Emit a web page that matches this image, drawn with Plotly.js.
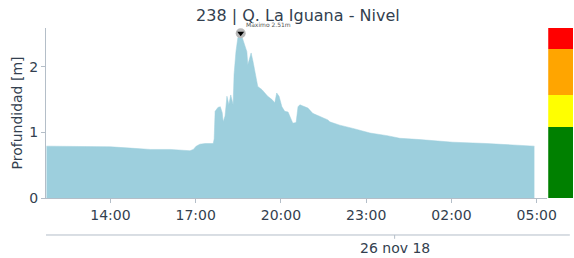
<!DOCTYPE html>
<html>
<head>
<meta charset="utf-8">
<script src="https://cdn.plot.ly/plotly-3.0.1.min.js"></script>
<style>html,body{margin:0;padding:0;background:#fff;}#chart{width:574px;height:258px;}</style>
</head>
<body>
<div id="chart"></div>
<script>
// Series: water depth over time
const times = [
 "2018-11-25 11:45","2018-11-25 12:57","2018-11-25 14:00","2018-11-25 14:42","2018-11-25 15:24",
 "2018-11-25 16:06","2018-11-25 16:27","2018-11-25 16:48","2018-11-25 16:55","2018-11-25 17:01",
 "2018-11-25 17:09","2018-11-25 17:20","2018-11-25 17:37","2018-11-25 17:39","2018-11-25 17:41",
 "2018-11-25 17:47","2018-11-25 17:52","2018-11-25 17:56","2018-11-25 17:58","2018-11-25 18:02",
 "2018-11-25 18:06","2018-11-25 18:10","2018-11-25 18:14","2018-11-25 18:19","2018-11-25 18:21",
 "2018-11-25 18:25","2018-11-25 18:29","2018-11-25 18:35","2018-11-25 18:38","2018-11-25 18:42",
 "2018-11-25 18:48","2018-11-25 18:50","2018-11-25 18:57","2018-11-25 19:01","2018-11-25 19:05",
 "2018-11-25 19:11","2018-11-25 19:20","2018-11-25 19:26","2018-11-25 19:32","2018-11-25 19:41",
 "2018-11-25 19:47","2018-11-25 19:51","2018-11-25 19:56","2018-11-25 20:02","2018-11-25 20:08",
 "2018-11-25 20:15","2018-11-25 20:21","2018-11-25 20:25","2018-11-25 20:32","2018-11-25 20:36",
 "2018-11-25 20:40","2018-11-25 20:51","2018-11-25 20:57","2018-11-25 21:07","2018-11-25 21:22",
 "2018-11-25 21:39","2018-11-25 21:43","2018-11-25 22:04","2018-11-25 22:32","2018-11-25 23:08",
 "2018-11-25 23:44","2018-11-26 00:11","2018-11-26 00:53","2018-11-26 02:03","2018-11-26 03:14",
 "2018-11-26 04:24","2018-11-26 04:55"
];
const depth = [
 0.79,0.785,0.78,0.76,0.74,
 0.74,0.73,0.72,0.74,0.79,
 0.82,0.83,0.83,0.90,1.32,
 1.38,1.39,1.30,1.16,1.25,
 1.55,1.42,1.57,1.42,1.88,
 2.23,2.44,2.51,2.45,2.36,
 2.23,2.03,2.21,2.08,1.93,
 1.70,1.65,1.60,1.55,1.50,
 1.45,1.60,1.55,1.39,1.32,
 1.31,1.19,1.14,1.15,1.39,
 1.42,1.39,1.37,1.29,1.24,
 1.19,1.16,1.11,1.06,0.99,
 0.95,0.91,0.89,0.85,0.83,
 0.80,0.79
];
// Maximum marker
const maxTime = ["2018-11-25 18:35"];
const maxValue = [2.51];
const maxLabel = "Máximo 2.51m";
// Alert levels (band heights, stacked)
const levelNames = ["Normal","Precaución","Alerta","Peligro"];
const levelHeights = [1.08, 0.49, 0.70, 0.32];
const levelColors = ["#008000","#ffff00","#ffa500","#ff0000"];
const dateLabel = "26 nov 18";
const dateTick = "2018-11-26 00:00";

const txt = '#333f4f';
const axc = '#b4bec8';
const font = 'DejaVu Sans, sans-serif';

const traces = [
  {x: times, y: depth, type: 'scatter', mode: 'lines', fill: 'tozeroy',
   fillcolor: '#9dcfdd', line: {color: '#9dcfdd', width: 0.5}, hoverinfo: 'skip', xaxis: 'x', yaxis: 'y'},
  {x: maxTime, y: maxValue, type: 'scatter', mode: 'markers',
   marker: {symbol: 'circle', size: 10, color: '#b9b9b9', line: {width: 0}}, xaxis: 'x', yaxis: 'y'},
  {x: maxTime, y: maxValue, type: 'scatter', mode: 'markers',
   marker: {symbol: 'triangle-down', size: 6, color: '#000'}, xaxis: 'x', yaxis: 'y'}
];
for (let i = 0; i < levelNames.length; i++) {
  traces.push({x: [0], y: [levelHeights[i]], type: 'bar', name: levelNames[i], width: 1,
    marker: {color: levelColors[i], line: {width: 0}}, xaxis: 'x2', yaxis: 'y', hoverinfo: 'skip'});
}

const layout = {
  width: 574, height: 258,
  margin: {l: 46, r: 1, t: 28, b: 60},
  paper_bgcolor: '#fff', plot_bgcolor: '#fff',
  showlegend: false, barmode: 'stack', bargap: 0,
  font: {family: font, color: txt, size: 14},
  title: {text: '238 | Q. La Iguana - Nivel', font: {family: font, size: 16, color: txt},
          x: 0.478, xref: 'paper', xanchor: 'center', y: 0.94, yref: 'container', yanchor: 'middle'},
  xaxis: {domain: [0, 0.951], type: 'date', range: ['2018-11-25 11:44', '2018-11-26 05:22'],
          tick0: '2018-11-25 14:00', dtick: 10800000, tickformat: '%H:%M',
          showgrid: false, zeroline: false, showline: true, linecolor: axc, linewidth: 1,
          ticks: 'outside', ticklen: 4, tickcolor: axc, tickfont: {size: 14, color: txt}, anchor: 'y'},
  xaxis2: {domain: [0.953, 1], range: [-0.5, 0.5], visible: false, anchor: 'y'},
  yaxis: {range: [0, 2.59], tickvals: [0, 1, 2], showgrid: false, zeroline: false,
          showline: true, linecolor: axc, linewidth: 1, ticks: 'outside', ticklen: 4, tickcolor: axc,
          tickfont: {size: 14, color: txt},
          title: {text: 'Profundidad [m]', font: {size: 14, color: txt}, standoff: 3}},
  shapes: [
    {type: 'line', xref: 'paper', yref: 'paper', x0: 0, x1: 0.994, y0: -0.2176, y1: -0.2176,
     line: {color: axc, width: 1}},
    {type: 'line', xref: 'x', yref: 'paper', x0: dateTick, x1: dateTick, y0: -0.2176, y1: -0.24,
     line: {color: axc, width: 1}}
  ],
  annotations: [
    {xref: 'x', yref: 'paper', x: dateTick, y: -0.235, yanchor: 'top', xanchor: 'center',
     text: dateLabel, showarrow: false, font: {size: 14, color: txt}},
    {xref: 'x', yref: 'y', x: maxTime[0], y: maxValue[0], xanchor: 'left', yanchor: 'bottom',
     xshift: 3, yshift: 3, text: maxLabel, showarrow: false, font: {size: 6, color: '#555'}}
  ]
};
Plotly.newPlot('chart', traces, layout, {displayModeBar: false, staticPlot: true});
</script>
</body>
</html>
